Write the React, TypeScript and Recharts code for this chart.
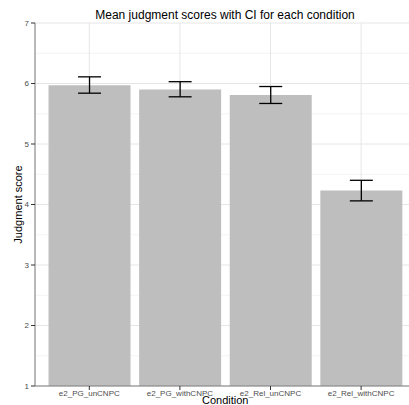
import React from "react";
import { BarChart, Bar, XAxis, YAxis, CartesianGrid, ErrorBar, Label } from "recharts";

const conditions = ["e2_PG_unCNPC", "e2_PG_withCNPC", "e2_Rel_unCNPC", "e2_Rel_withCNPC"];
const means = [5.97, 5.9, 5.81, 4.23];
const ciLow = [5.84, 5.78, 5.67, 4.06];
const ciHigh = [6.11, 6.03, 5.95, 4.4];
const yTicks = [1, 2, 3, 4, 5, 6, 7];
const yMinor = [1.5, 2.5, 3.5, 4.5, 5.5, 6.5];

const data = conditions.map((name, i) => ({
  name,
  mean: means[i],
  err: [means[i] - ciLow[i], ciHigh[i] - means[i]],
}));

const FONT = "'Liberation Sans', Arial, Helvetica, sans-serif";
const AXIS = "#7f7f7f";
const TICKTXT = "#4d4d4d";

export default function App() {
  return (
    <div
      style={{
        position: "absolute",
        left: 0,
        top: 0,
        width: 409,
        height: 405,
        overflow: "hidden",
        background: "#fff",
        fontFamily: FONT,
      }}
    >
      <div
        style={{
          position: "absolute",
          left: 0,
          top: 9.3,
          width: 450,
          textAlign: "center",
          fontSize: 12,
          lineHeight: "12px",
          color: "#000",
          fontFamily: FONT,
          whiteSpace: "nowrap",
        }}
      >
        Mean judgment scores with CI for each condition
      </div>
      <BarChart
        width={420}
        height={405}
        data={data}
        margin={{ top: 23, right: 4.6, left: 0, bottom: 0 }}
        barCategoryGap="5%"
        style={{ fontFamily: FONT }}
      >
        <CartesianGrid
          stroke="#f4f4f4"
          vertical={false}
          horizontalValues={yMinor}
          strokeWidth={1}
        />
        <CartesianGrid stroke="#e6e6e6" strokeWidth={1} />
        <XAxis
          dataKey="name"
          padding={{ left: 9, right: 9 }}
          height={19}
          interval={0}
          tickSize={4}
          tickMargin={0}
          tick={{ fontSize: 8, fill: TICKTXT, fontFamily: FONT }}
          tickLine={{ stroke: "#333" }}
          axisLine={{ stroke: AXIS }}
        >
          <Label
            value="Condition"
            position="insideBottom"
            offset={1}
            style={{ fontSize: 11, fill: "#000", fontFamily: FONT }}
          />
        </XAxis>
        <XAxis
          xAxisId="top"
          dataKey="name"
          orientation="top"
          height={0}
          tick={false}
          tickLine={false}
          axisLine={{ stroke: AXIS }}
        />
        <YAxis
          width={35}
          domain={[1, 7]}
          ticks={yTicks}
          allowDataOverflow
          tickSize={4}
          tickMargin={2}
          tick={{ fontSize: 8, fill: TICKTXT, fontFamily: FONT }}
          tickLine={{ stroke: "#333" }}
          axisLine={{ stroke: AXIS }}
        >
          <Label
            value="Judgment score"
            angle={-90}
            position="center"
            dx={1}
            style={{ fontSize: 11, fill: "#000", fontFamily: FONT, textAnchor: "middle" }}
          />
        </YAxis>
        <Bar dataKey="mean" fill="#bebebe" isAnimationActive={false}>
          <ErrorBar
            dataKey="err"
            direction="y"
            width={11.5}
            stroke="#000"
            strokeWidth={1.3}
            isAnimationActive={false}
          />
        </Bar>
      </BarChart>
    </div>
  );
}
